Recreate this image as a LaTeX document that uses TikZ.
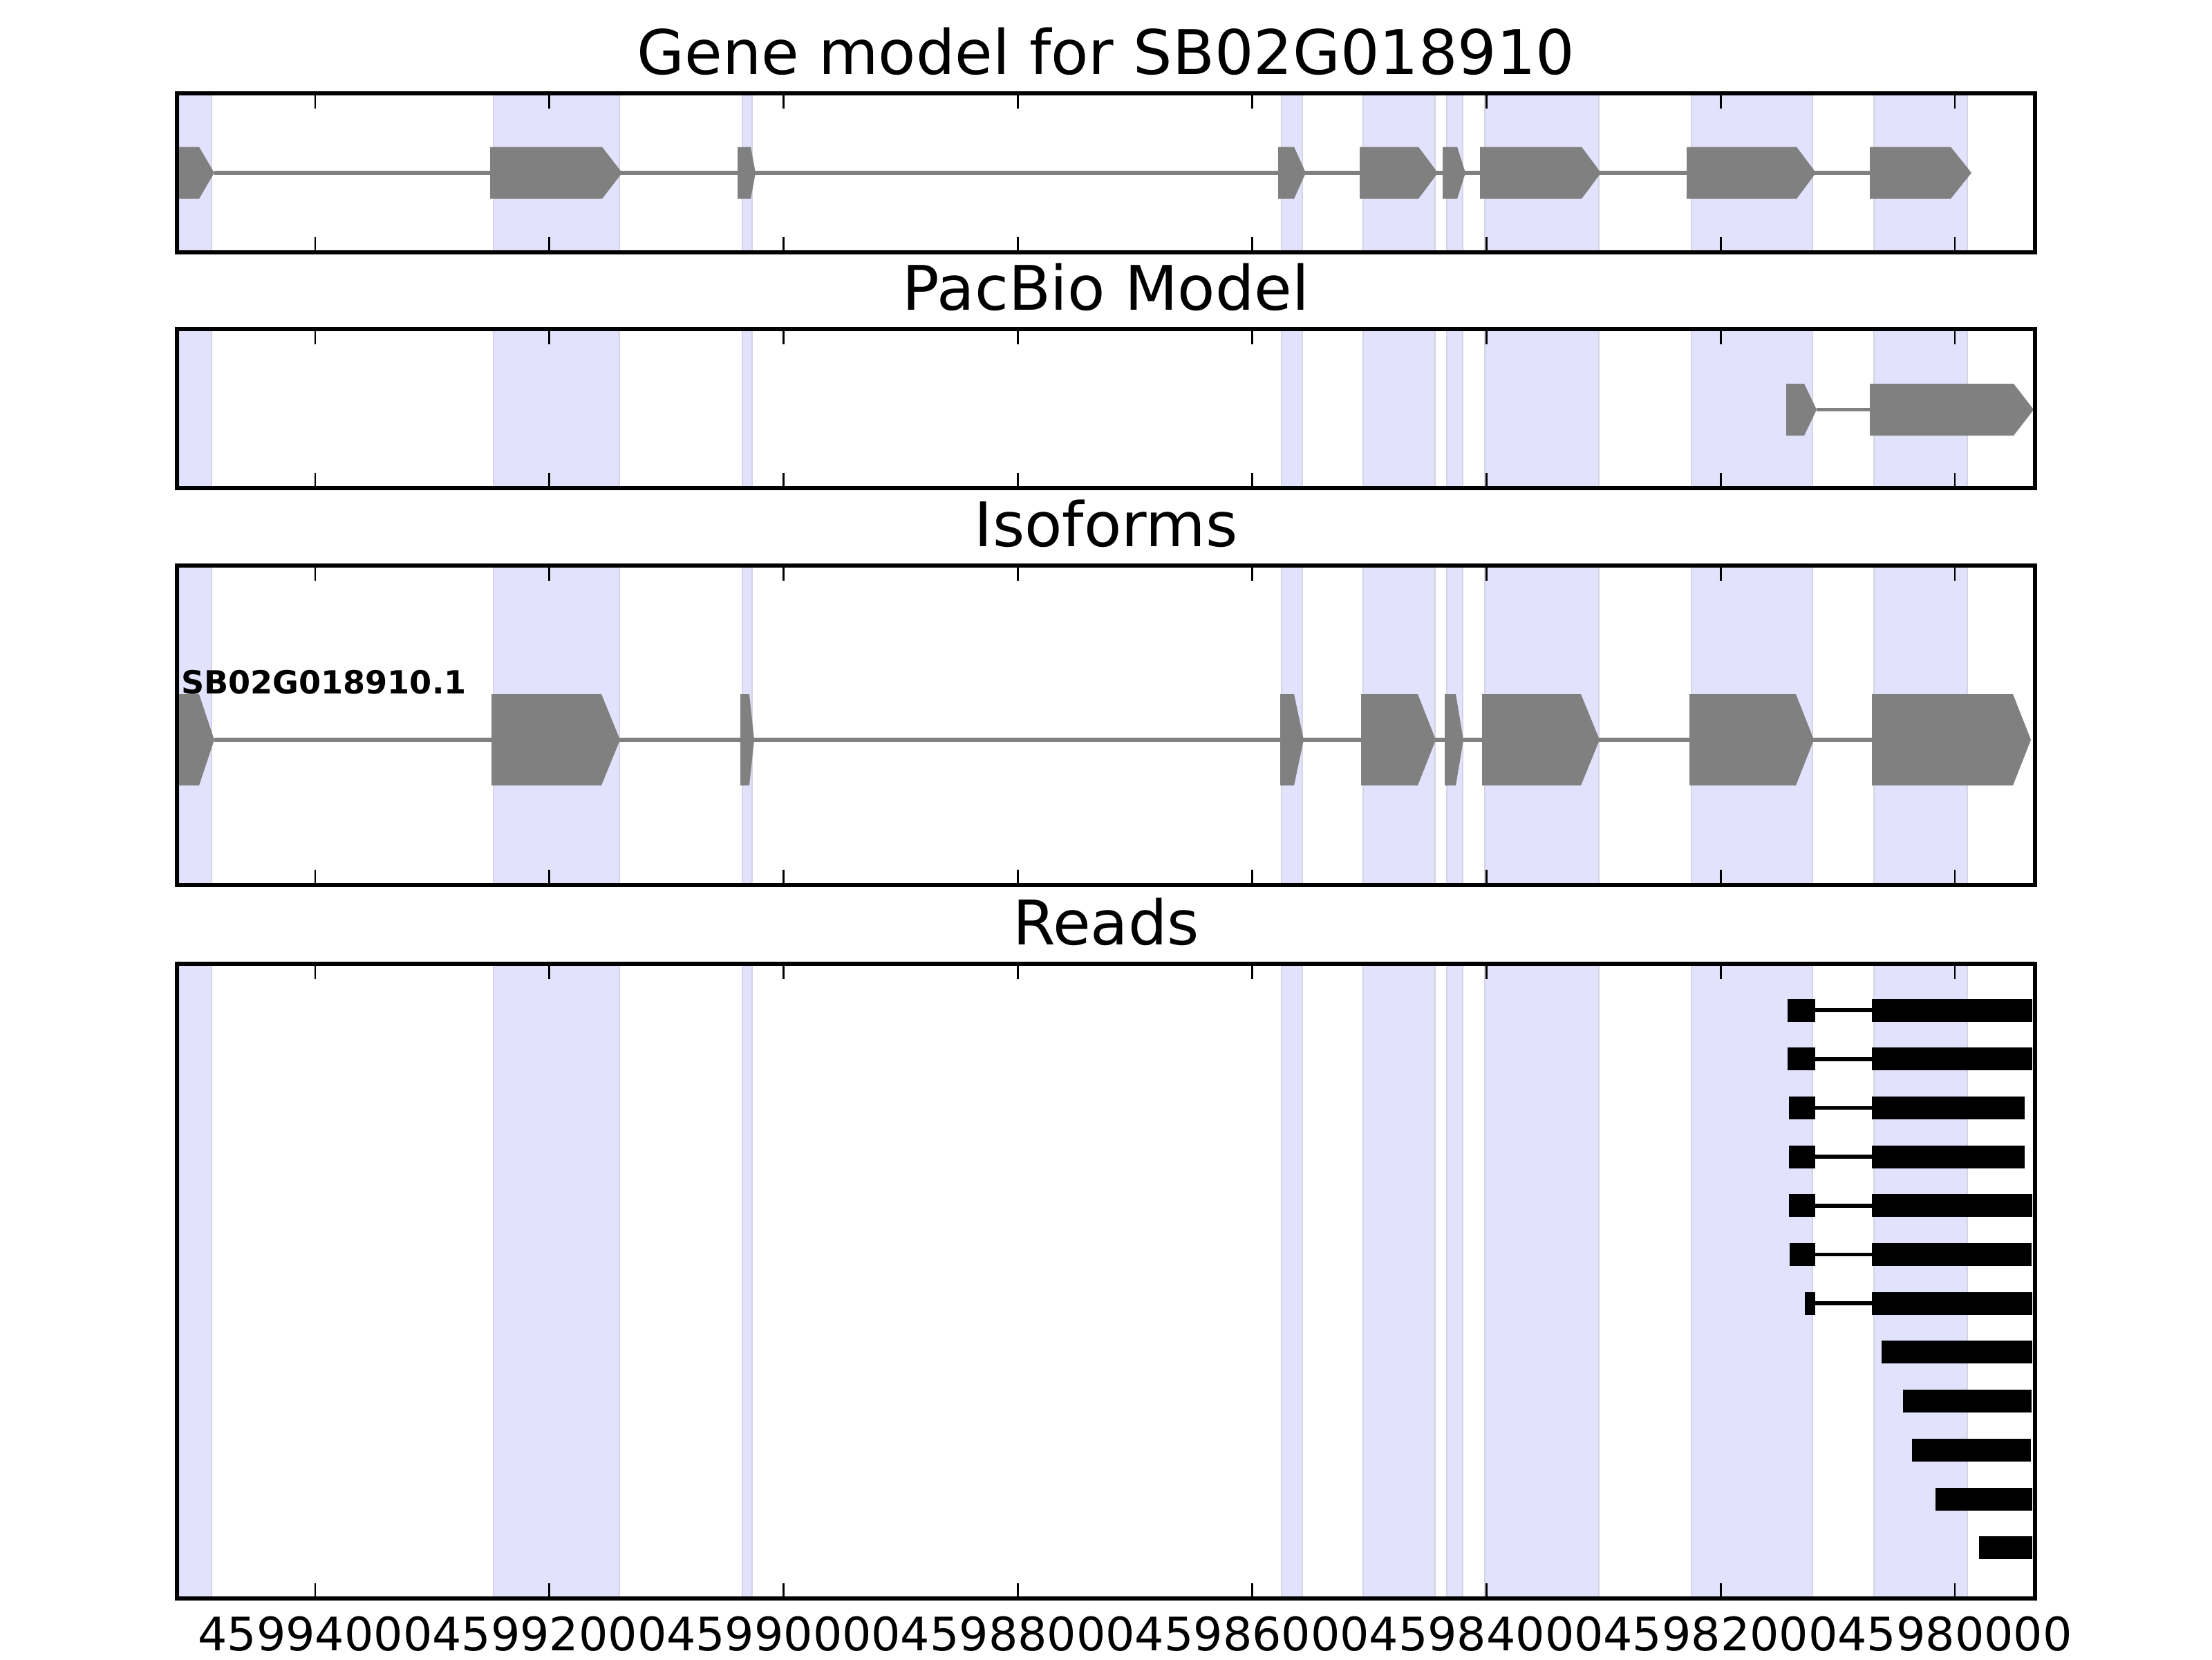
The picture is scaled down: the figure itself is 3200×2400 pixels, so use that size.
\documentclass[tikz,border=0pt]{standalone}
\usepackage{fontspec}
\setmainfont{DejaVu Sans}
\usepackage{tikz}
\usepackage{xcolor}

\definecolor{spanfill}{RGB}{226,226,252}
\definecolor{spanline}{RGB}{212,212,230}
\definecolor{exongray}{RGB}{128,128,128}

\begin{document}
\begin{tikzpicture}[x=0.18pt,y=-0.18pt,
    span/.style={fill=spanfill,draw=spanline,line width=0.4pt},
    exon/.style={fill=exongray},
    intron/.style={draw=exongray,line width=1pt},
    frame/.style={draw=black,line width=1pt},
    tickmark/.style={line width=0.5pt},
    paneltitle/.style={anchor=base,inner sep=0pt,font=\fontsize{16}{19}\selectfont},
    ticklabel/.style={anchor=base,inner sep=0pt,font=\fontsize{12}{14}\selectfont}]
    \useasboundingbox (0,0) rectangle (3200,2400);

    \foreach \t/\b in {135/365,476/706,818/1280,1394/2312} {
        \foreach \l/\r in {259/306,714/896,1074/1088,1854/1884,1972/2076,2093/2116,2148/2313,2447/2622,2711/2846}
            \filldraw[span] (\l,\t) rectangle (\r,\b);
    }

    % gene model
    \draw[intron] (310,250) -- (2705,250);
    \foreach \a/\b/\c in {256/288/310,709/871/900,1067/1086/1093,1849/1872/1889,1967/2052/2080,2087/2108/2120,2141/2288/2316,2440/2599/2627,2705/2822/2852}
        \fill[exon] (\a,212.5) -- (\b,212.5) -- (\c,250) -- (\b,287.5) -- (\a,287.5) -- cycle;

    % pacbio
    \draw[intron] (2628,592.5) -- (2705,592.5);
    \foreach \a/\b/\c in {2584/2610/2628,2705/2913/2942}
        \fill[exon] (\a,555) -- (\b,555) -- (\c,592.5) -- (\b,630) -- (\a,630) -- cycle;

    % isoforms
    \draw[intron] (310,1070) -- (2708,1070);
    \foreach \a/\b/\c in {256/288/310,711/870/897,1071/1084/1091,1852/1872/1886,1969/2051/2077,2090/2106/2117,2144/2287/2314,2444/2598/2624,2708/2912/2938}
        \fill[exon] (\a,1004) -- (\b,1004) -- (\c,1070) -- (\b,1136) -- (\a,1136) -- cycle;
    \node (isolabel) at (261,1003) [anchor=base west,inner sep=0pt,font=\fontsize{8.3}{10}\selectfont\bfseries] {SB02G018910.1};

    % reads
    \foreach \i/\s/\r in {0/2586/2940,1/2586/2940,2/2588/2929,3/2588/2929,4/2588/2940,5/2589/2939,6/2611/2940} {
        \draw[line width=1pt] (2626,{1461+70.7*\i}) -- (2708,{1461+70.7*\i});
        \fill (\s,{1461+70.7*\i-16.5}) rectangle (2626,{1461+70.7*\i+16.5});
        \fill (2708,{1461+70.7*\i-16.5}) rectangle (\r,{1461+70.7*\i+16.5});
    }
    \foreach \i/\l/\r in {7/2722/2940,8/2753/2939,9/2766/2938,10/2800/2940,11/2863/2940}
        \fill (\l,{1461+70.7*\i-16.5}) rectangle (\r,{1461+70.7*\i+16.5});

    \foreach \t/\b in {135/365,476/706,818/1280,1394/2312} {
        \foreach \k in {0,...,7}
            \draw[tickmark] ({456+338.86*\k},\t) -- ++(0,22) ({456+338.86*\k},\b) -- ++(0,-22);
        \draw[frame] (256,\t) rectangle (2944,\b);
    }

    \node (genetitle) at (1600,107) [paneltitle] {Gene model for SB02G018910};
    \node (pacbiotitle) at (1600,448) [paneltitle] {PacBio Model};
    \node (isotitle) at (1600,790) [paneltitle] {Isoforms};
    \node (readstitle) at (1600,1366) [paneltitle] {Reads};

    \node (tick0) at (456,2387) [ticklabel] {45994000};
    \node (tick1) at (794.86,2387) [ticklabel] {45992000};
    \node (tick2) at (1133.72,2387) [ticklabel] {45990000};
    \node (tick3) at (1472.58,2387) [ticklabel] {45988000};
    \node (tick4) at (1811.44,2387) [ticklabel] {45986000};
    \node (tick5) at (2150.3,2387) [ticklabel] {45984000};
    \node (tick6) at (2489.16,2387) [ticklabel] {45982000};
    \node (tick7) at (2828.02,2387) [ticklabel] {45980000};
\end{tikzpicture}
\end{document}
